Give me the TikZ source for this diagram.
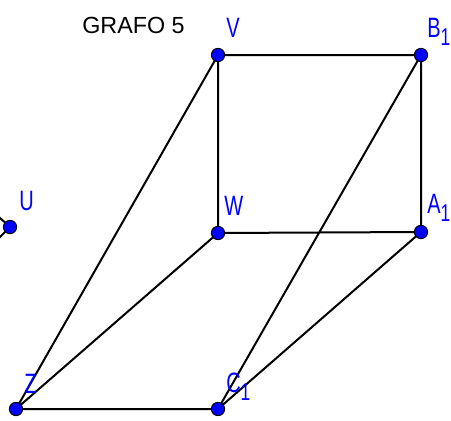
\documentclass[tikz,border=0pt]{standalone}
\usepackage{fontspec}
\setmainfont{Liberation Sans}
\newcommand{\vlab}[1]{\scalebox{1}[1.4]{\fontsize{15}{15}\selectfont #1}}
\newcommand{\vsub}{\raisebox{-4.5pt}{\fontsize{13}{13}\selectfont 1}}
\begin{document}
\begin{tikzpicture}[x=0.75pt,y=-0.75pt,
  vtx/.style={circle,fill=blue,draw=black,line width=0.7pt,minimum size=10pt,inner sep=0pt},
  edge/.style={line width=1.5pt,black},
  lbl/.style={text=blue,anchor=base west,inner sep=0pt}]
\useasboundingbox (0,0) rectangle (451,421);
\coordinate (V) at (218,55);
\coordinate (B) at (421,55);
\coordinate (W) at (218,233);
\coordinate (A) at (421,232);
\coordinate (U) at (10,227);
\coordinate (Z) at (16,409);
\coordinate (C) at (218,409);
\coordinate (u1) at (-10,209);
\coordinate (u2) at (-10,247);
\draw[edge] (V)--(B) (V)--(W) (V)--(Z) (B)--(A) (B)--(C) (W)--(A) (W)--(Z) (A)--(C) (Z)--(C) (U)--(u1) (U)--(u2);
\foreach \p in {V,B,W,A,U,Z,C} \node[vtx] (n\p) at (\p) {};
\node[lbl] (lV) at (226,37) {\vlab{V}};
\node[lbl] (lB) at (427,37) {\vlab{B\vsub}};
\node[lbl] (lW) at (224,215) {\vlab{W}};
\node[lbl] (lA) at (427,213) {\vlab{A\vsub}};
\node[lbl] (lU) at (19,210) {\vlab{U}};
\node[lbl] (lZ) at (24,393) {\vlab{Z}};
\node[lbl] (lC) at (226,392) {\vlab{C\vsub}};
\node[font=\fontsize{17.5}{17.5}\selectfont,anchor=base west,inner sep=0pt] (title) at (82,33) {GRAFO 5};
\end{tikzpicture}
\end{document}
